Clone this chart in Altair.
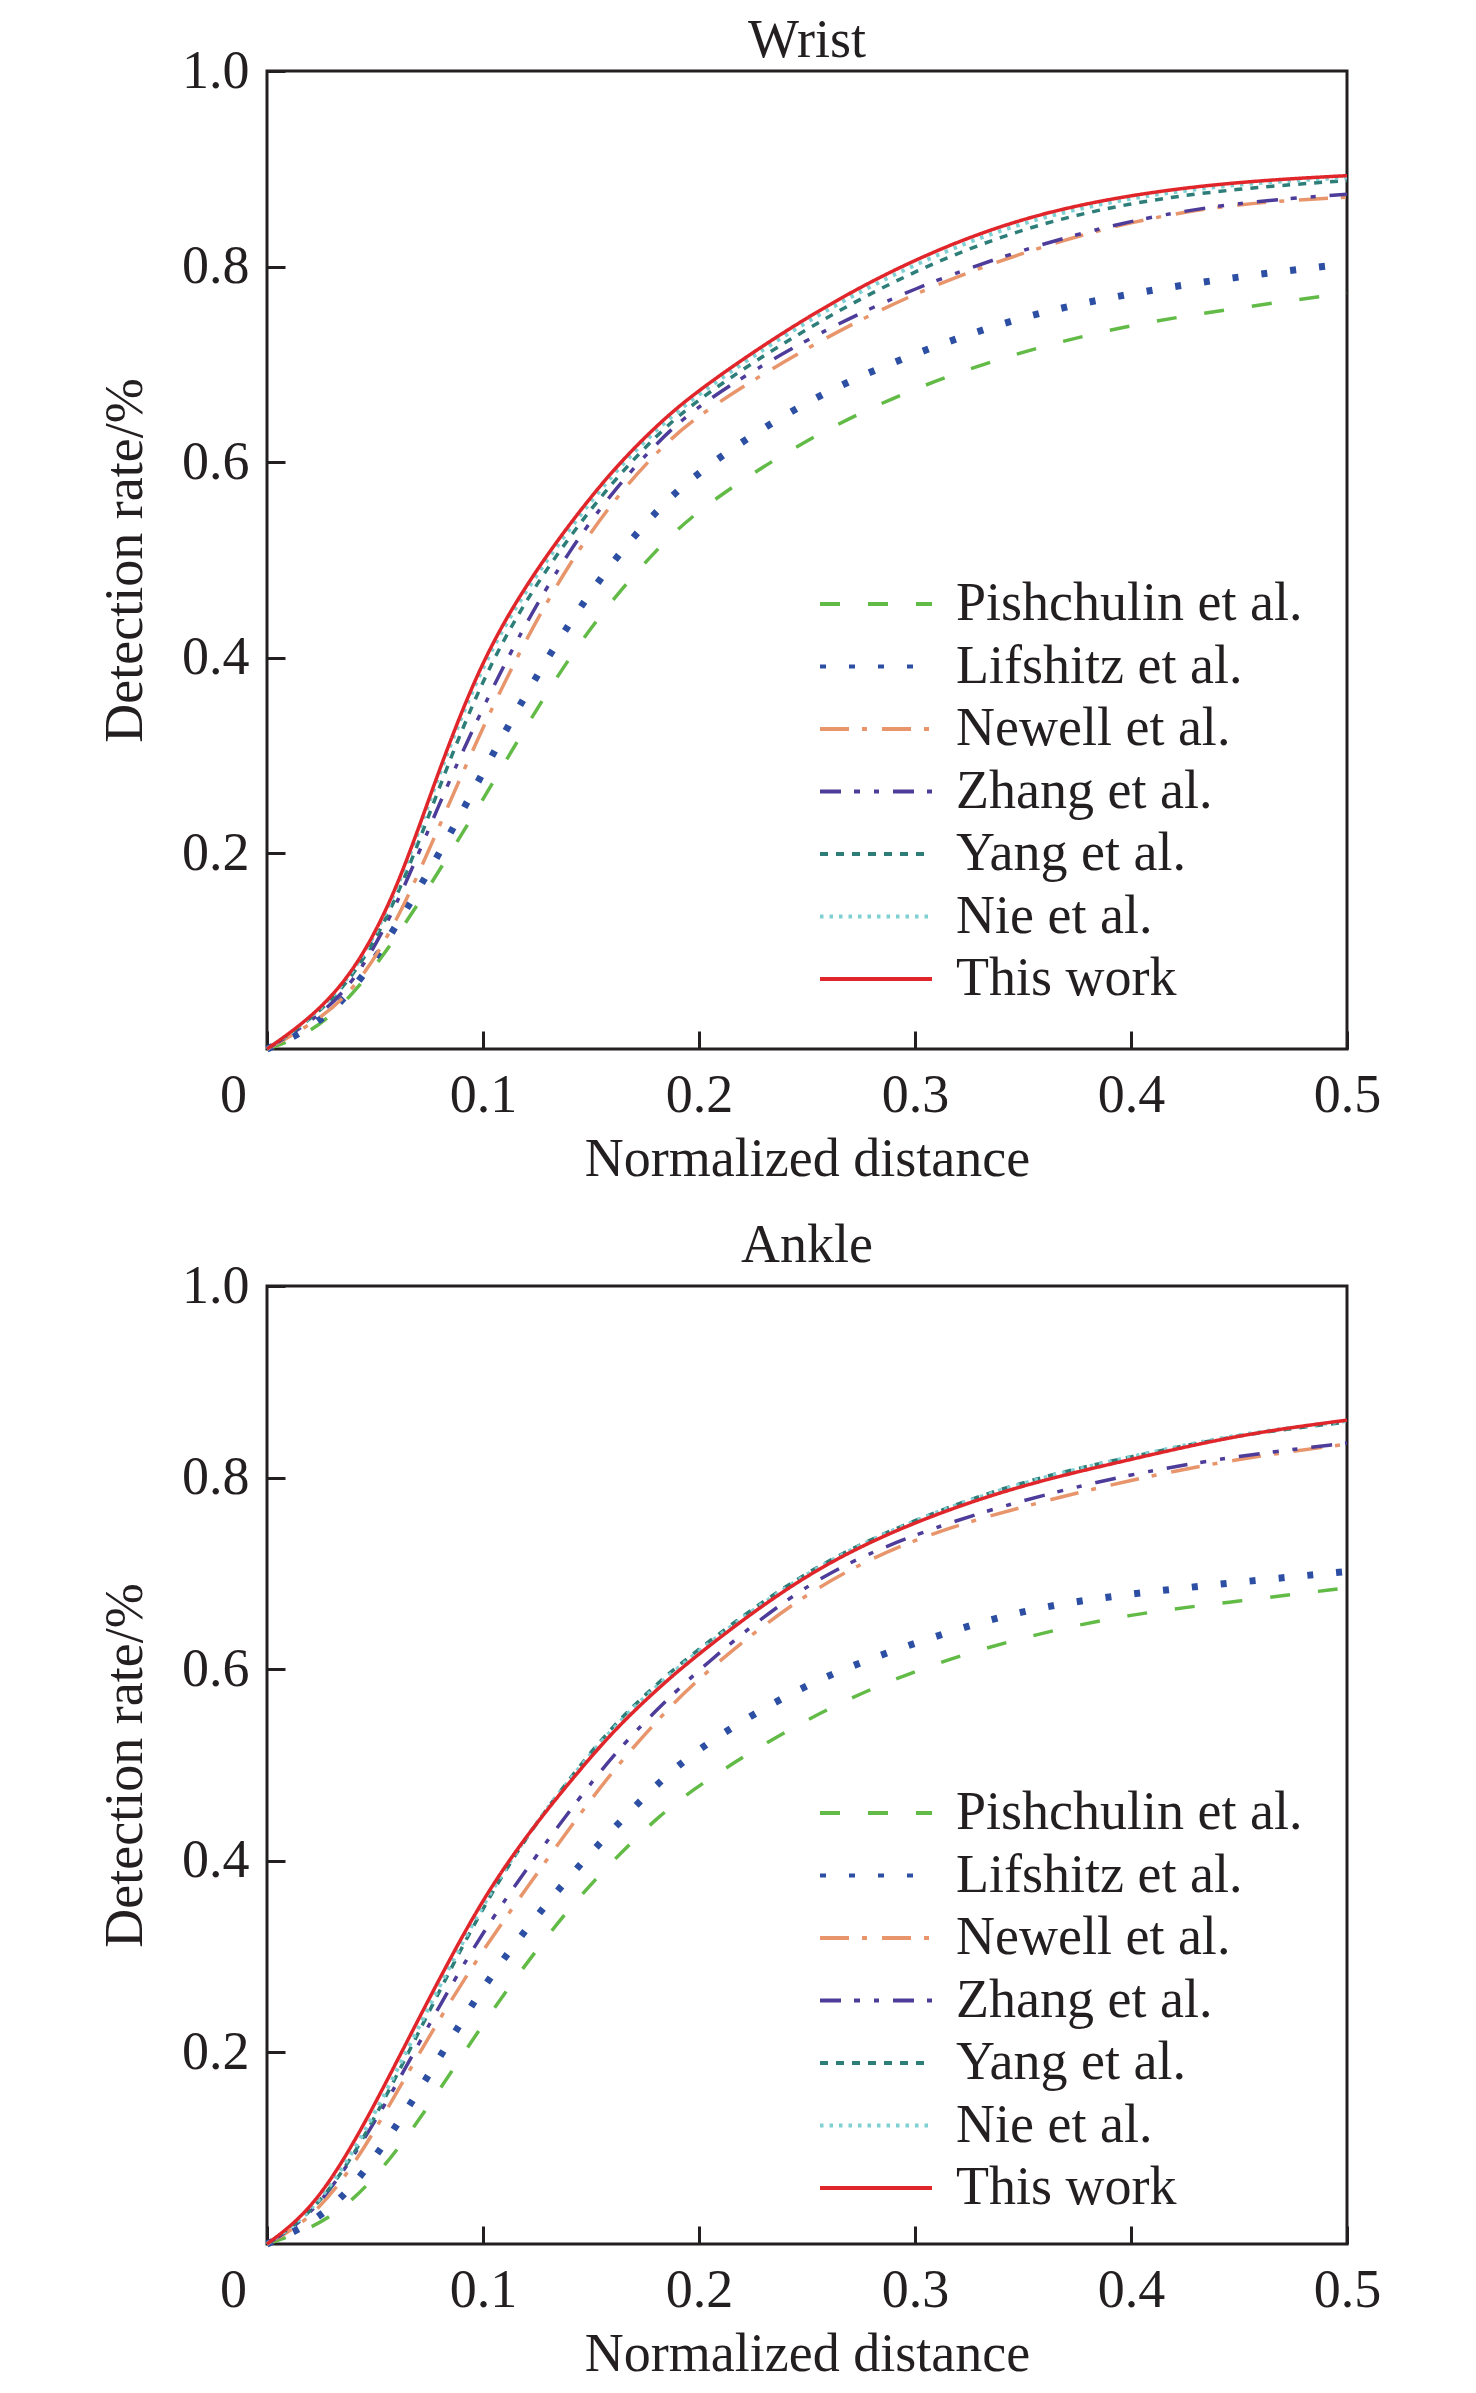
import altair as alt
import pandas as pd

# ---------------- data ----------------
x_vals = [0, 0.02, 0.04, 0.06, 0.08, 0.10, 0.12, 0.14, 0.16, 0.18, 0.20,
          0.25, 0.30, 0.35, 0.40, 0.45, 0.50]

methods = ["Pishchulin et al.", "Lifshitz et al.", "Newell et al.", "Zhang et al.",
           "Yang et al.", "Nie et al.", "This work"]

wrist_pishchulin = [0, 0.015, 0.055, 0.114, 0.183, 0.255, 0.330, 0.401, 0.460, 0.510, 0.553, 0.625, 0.677, 0.714, 0.741, 0.758, 0.773]
wrist_lifshitz   = [0, 0.020, 0.058, 0.126, 0.200, 0.283, 0.364, 0.436, 0.499, 0.550, 0.592, 0.665, 0.712, 0.750, 0.773, 0.790, 0.803]
wrist_newell     = [0, 0.024, 0.058, 0.128, 0.229, 0.330, 0.420, 0.497, 0.560, 0.610, 0.650, 0.718, 0.774, 0.815, 0.847, 0.865, 0.871]
wrist_zhang      = [0, 0.027, 0.065, 0.145, 0.253, 0.350, 0.437, 0.510, 0.570, 0.619, 0.660, 0.727, 0.779, 0.818, 0.848, 0.866, 0.874]
wrist_yang       = [0, 0.029, 0.072, 0.150, 0.270, 0.380, 0.460, 0.524, 0.580, 0.627, 0.666, 0.738, 0.797, 0.840, 0.866, 0.880, 0.888]
wrist_nie        = [0, 0.030, 0.075, 0.157, 0.284, 0.395, 0.470, 0.532, 0.588, 0.633, 0.671, 0.746, 0.804, 0.847, 0.871, 0.885, 0.891]
wrist_this       = [0, 0.031, 0.077, 0.160, 0.289, 0.400, 0.475, 0.537, 0.592, 0.637, 0.675, 0.750, 0.809, 0.851, 0.874, 0.887, 0.893]

ankle_pishchulin = [0, 0.015, 0.044, 0.096, 0.161, 0.230, 0.293, 0.351, 0.400, 0.444, 0.480, 0.550, 0.600, 0.634, 0.658, 0.671, 0.685]
ankle_lifshitz   = [0, 0.020, 0.058, 0.123, 0.195, 0.269, 0.329, 0.384, 0.433, 0.479, 0.519, 0.587, 0.628, 0.663, 0.679, 0.691, 0.702]
ankle_newell     = [0, 0.025, 0.080, 0.158, 0.236, 0.307, 0.371, 0.434, 0.494, 0.545, 0.592, 0.683, 0.738, 0.770, 0.798, 0.820, 0.835]
ankle_zhang      = [0, 0.028, 0.090, 0.166, 0.250, 0.326, 0.391, 0.452, 0.510, 0.557, 0.600, 0.693, 0.742, 0.777, 0.804, 0.823, 0.836]
ankle_yang       = [0, 0.030, 0.090, 0.175, 0.265, 0.352, 0.425, 0.486, 0.541, 0.584, 0.622, 0.705, 0.757, 0.797, 0.822, 0.845, 0.858]
ankle_nie        = [0, 0.031, 0.094, 0.180, 0.270, 0.355, 0.426, 0.485, 0.539, 0.582, 0.620, 0.704, 0.757, 0.796, 0.822, 0.846, 0.859]
ankle_this       = [0, 0.034, 0.103, 0.190, 0.278, 0.361, 0.426, 0.482, 0.535, 0.578, 0.617, 0.702, 0.755, 0.793, 0.819, 0.845, 0.860]

x_ticks = [0, 0.1, 0.2, 0.3, 0.4, 0.5]
y_ticks = [0.2, 0.4, 0.6, 0.8, 1.0]

# ---------------- styles ----------------
colors = ["#62bb46", "#2c4ea3", "#e8956b", "#4e3c9a", "#2d7d78", "#7fd0d2", "#e0262b"]
dashes = [[20, 28], [6, 23], [29, 13, 5, 15], [21, 13, 6, 14, 5, 14], [8, 8], [3.5, 6], [1, 0]]
FONT = "Liberation Serif"
INK = "#231f20"
FS = 54
PLOT_W = 1080


def long_table(series):
    rows = []
    for m, vals in zip(methods, series):
        for xv, yv in zip(x_vals, vals):
            rows.append({"x": xv, "y": yv, "method": m})
    return pd.DataFrame(rows)


def panel(title, series, height, title_offset, legend_y):
    df = long_table(series)
    leg = alt.Legend(
        title=None, orient="none", legendX=551, legendY=legend_y,
        symbolType="stroke", symbolSize=12544, symbolStrokeWidth=4,
        clipHeight=62, rowPadding=0.5, labelOffset=22,
        labelFont=FONT, labelFontSize=FS, labelColor=INK, labelLimit=800,
        padding=0,
    )
    x_axis = alt.Axis(
        values=x_ticks, grid=False, domain=False,
        labelExpr="datum.value == 0 ? '0' : format(datum.value, '.1f')",
        labelFlush=False,
        labelOffset={"condition": {"test": "datum.value == 0", "value": -34}, "value": 0},
        tickSize={"expr": "-18"}, tickWidth=3, tickColor=INK,
        labelPadding=80, labelBaseline="alphabetic",
        labelFont=FONT, labelFontSize=FS, labelColor=INK,
        title="Normalized distance", titleFont=FONT, titleFontSize=FS,
        titleFontWeight="normal", titleColor=INK,
        titleBaseline="alphabetic", titleY=126,
    )
    y_axis = alt.Axis(
        values=y_ticks, grid=False, domain=False, format=".1f",
        tickSize={"expr": "-18"}, tickWidth=3, tickColor=INK,
        labelPadding=36, labelFont=FONT, labelFontSize=FS, labelColor=INK,
        title="Detection rate/%", titleFont=FONT, titleFontSize=FS,
        titleFontWeight="normal", titleColor=INK,
        titleAngle=270, titleBaseline="alphabetic", titleAlign="center",
        titleX=-126, titleY=height / 2,
    )
    sw_cond = [
        {"test": "datum.method === 'Lifshitz et al.'", "value": 7},
        {"test": "datum.method === 'Nie et al.'", "value": 4},
    ]
    chart = alt.Chart(df).mark_line(interpolate="basis").encode(
        x=alt.X("x:Q", scale=alt.Scale(domain=[0, 0.5], nice=False, zero=False), axis=x_axis),
        y=alt.Y("y:Q", scale=alt.Scale(domain=[0, 1], nice=False), axis=y_axis),
        color=alt.Color("method:N", scale=alt.Scale(domain=methods, range=colors), legend=leg),
        strokeDash=alt.StrokeDash("method:N", scale=alt.Scale(domain=methods, range=dashes), legend=leg),
        strokeWidth=alt.StrokeWidthValue(3.5, condition=sw_cond),
    ).properties(
        width=PLOT_W, height=height,
        title=alt.TitleParams(title, font=FONT, fontSize=FS, fontWeight="normal",
                              color=INK, offset=alt.ExprRef(expr=str(title_offset)),
                              baseline="alphabetic", anchor="middle", frame="group"),
    )
    return chart


top = panel("Wrist",
            [wrist_pishchulin, wrist_lifshitz, wrist_newell, wrist_zhang, wrist_yang, wrist_nie, wrist_this],
            978, -67, 502)
bottom = panel("Ankle",
               [ankle_pishchulin, ankle_lifshitz, ankle_newell, ankle_zhang, ankle_yang, ankle_nie, ankle_this],
               958, -57, 496)

chart = alt.vconcat(top, bottom, spacing=29).resolve_scale(
    x="independent", y="independent", color="independent", strokeDash="independent"
).resolve_legend(color="independent", strokeDash="independent").configure(
    padding={"left": 88, "top": 4, "right": 5, "bottom": 0},
    background="white",
).configure_view(stroke=INK, strokeWidth=3)

chart.save("out.html", embed_options={"renderer": "svg", "actions": False})
